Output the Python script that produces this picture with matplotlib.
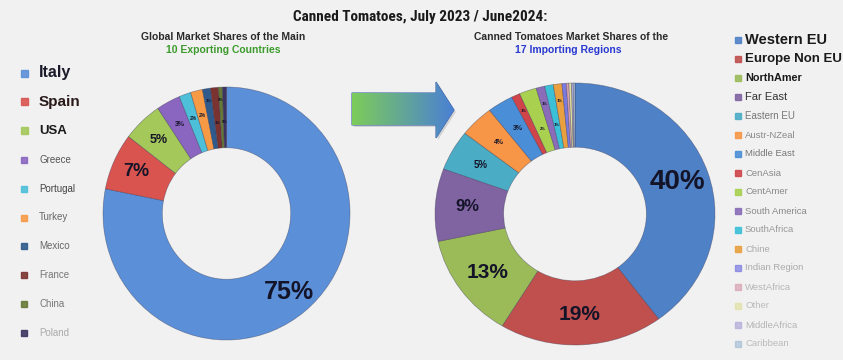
import numpy as np
import matplotlib
matplotlib.use("Agg")
import matplotlib.pyplot as plt
from matplotlib import font_manager
from matplotlib.patches import Polygon, Rectangle

# data
exporters = ["Italy", "Spain", "USA", "Greece", "Portugal", "Turkey",
             "Mexico", "France", "China", "Poland"]
export_share = [75, 7, 5, 3, 1.5, 1.5, 1, 1, 0.5, 0.5]

importers = ["Western EU", "Europe Non EU", "NorthAmer", "Far East", "Eastern EU",
             "Austr-NZeal", "Middle East", "CenAsia", "CentAmer", "South America",
             "SouthAfrica", "Chine", "Indian Region", "WestAfrica", "Other",
             "MiddleAfrica", "Caribbean"]
import_share = [40, 19, 13, 9, 5, 4, 3, 1, 2, 1, 1, 1, 0.5, 0.3, 0.3, 0.2, 0.2]

title = "Canned Tomatoes, July 2023 / June2024:"
sub_left = ["Global Market Shares of the Main", "10 Exporting Countries"]
sub_right = ["Canned Tomatoes Market Shares of the", "17 Importing Regions"]

# colours / styles
exp_colors = ["#5b8fd8", "#d9534f", "#a4c85a", "#8a66c0", "#4dbfd9", "#f79a46",
              "#2f5a8c", "#7a3330", "#667a35", "#3d3560"]
imp_colors = ["#4f81c7", "#c0504d", "#9bbb59", "#8064a2", "#4bacc6", "#f79646",
              "#4a8ed8", "#d0454a", "#a9d04f", "#8a6cb8", "#3cc0d8", "#e8a040",
              "#7a7ae0", "#d8a0b0", "#e0e0a0", "#b0a8d8", "#a8c0d8"]
exp_lbl_size = [18, 13, 9, 5, 3.5, 3.5, 3, 3, 3, 3]
imp_lbl_size = [20, 15, 15, 12, 7, 5, 5, 3, 3, 3, 3, 3, 0, 0, 0, 0, 0]


def pick(names, default="DejaVu Sans"):
    for n in names:
        try:
            font_manager.findfont(n, fallback_to_default=False)
            return n
        except Exception:
            pass
    return default


narrow = pick(["Liberation Sans Narrow", "Roboto Condensed", "DejaVu Sans"])
arial = pick(["Liberation Sans", "Arial", "DejaVu Sans"])
plt.rcParams["font.family"] = arial

W, H = 843, 360
fig = plt.figure(figsize=(W / 100, H / 100), dpi=100, facecolor="#f1f1f1")

# overlay in pixel coordinates
bg = fig.add_axes([0, 0, 1, 1])
bg.set_xlim(0, W)
bg.set_ylim(H, 0)
bg.axis("off")


def px_axes(left, top, w, h):
    return fig.add_axes([left / W, 1 - (top + h) / H, w / W, h / H])


def donut(ax, vals, cols, sizes, ring, rlab):
    wedges, _ = ax.pie(vals, colors=cols, startangle=90, counterclock=False,
                       wedgeprops=dict(width=ring, edgecolor=(0.2, 0.2, 0.3, 0.45),
                                       linewidth=0.5))
    k = 0
    for w, v, s in zip(wedges, vals, sizes):
        if s <= 0:
            continue
        r = rlab
        if s <= 3:
            # stagger the tiny labels so they do not sit on each other
            r = rlab + (0.1 if k % 2 == 0 else -0.08)
            k += 1
        ang = np.deg2rad((w.theta1 + w.theta2) / 2)
        ax.text(r * np.cos(ang), r * np.sin(ang), f"{v:.0f}%",
                ha="center", va="center", fontsize=s, fontweight="bold",
                color="#141428")
    ax.set_aspect("auto")
    ax.set_xlim(-1, 1)
    ax.set_ylim(-1, 1)
    ax.axis("off")


ax1 = px_axes(103, 87, 247, 253)
donut(ax1, export_share, exp_colors, exp_lbl_size, 0.48, 0.8)
ax2 = px_axes(435, 83, 280, 262)
donut(ax2, import_share, imp_colors, imp_lbl_size, 0.49, 0.77)

# titles
bg.text(420, 17, title, ha="center", va="center", fontsize=11, fontweight="bold",
        family=narrow, color="#1a1a1a")
bg.text(223, 37, sub_left[0], ha="center", va="center", fontsize=7.5,
        fontweight="bold", color="#2a2a2a")
bg.text(223, 50, sub_left[1], ha="center", va="center", fontsize=7.5,
        fontweight="bold", color="#3c9a2c")
bg.text(571, 37, sub_right[0], ha="center", va="center", fontsize=7.5,
        fontweight="bold", color="#2a2a2a")
bg.text(568, 50, sub_right[1], ha="center", va="center", fontsize=7.5,
        fontweight="bold", color="#2838d0")

# left legend
left_font = [11.5, 11, 9.5, 7, 7, 7, 7, 7, 7, 7]
left_tc = ["#1a1a2a", "#2a1a1a", "#1a1a1a", "#555555", "#444444", "#666666",
           "#666666", "#777777", "#777777", "#aaaaaa"]
for i, name in enumerate(exporters):
    y = 73 + i * 28.9
    bold = i < 3
    s = 7 if bold else 6
    bg.add_patch(Rectangle((21, y - s / 2), s, s, color=exp_colors[i], alpha=0.9))
    bg.text(39, y, name, ha="left", va="center",
            fontsize=left_font[i], fontweight="bold" if bold else "normal",
            color=left_tc[i])

# right legend
right_font = [10.5, 9.5, 7.8, 8, 7, 6.8, 6.8, 6.8, 6.8, 6.8, 6.8, 6.8, 6.8,
              6.8, 6.8, 6.8, 6.8]
right_tc = ["#1a1a1a", "#1a1a1a", "#1a1a1a", "#333333", "#777777", "#888888",
            "#777777", "#888888", "#888888", "#888888", "#999999", "#aaaaaa",
            "#aaaaaa", "#b5b5b5", "#bbbbbb", "#b5b5b5", "#bbbbbb"]
for i, name in enumerate(importers):
    y = 40 + i * 19
    bold = i < 3
    bg.add_patch(Rectangle((735, y - 3), 6, 6, color=imp_colors[i],
                           alpha=0.9 if i < 12 else 0.7))
    bg.text(745, y, name, ha="left", va="center", fontsize=right_font[i],
            fontweight="bold" if bold else "normal", color=right_tc[i])

# gradient arrow
arrow_pts = [(352, 93), (436, 93), (436, 82), (454, 110), (436, 138),
             (436, 125), (352, 125)]
shadow = Polygon([(x + 2, y + 2) for x, y in arrow_pts], closed=True,
                 facecolor=(0, 0, 0, 0.12), edgecolor="none")
bg.add_patch(shadow)
arrow = Polygon(arrow_pts, closed=True, facecolor="none",
                edgecolor="#3a62a8", linewidth=0.8)
bg.add_patch(arrow)
g1 = np.array(matplotlib.colors.to_rgb("#7ccc5a"))
g2 = np.array(matplotlib.colors.to_rgb("#4a80d4"))
t = np.linspace(0, 1, 200)[None, :, None]
grad = g1 * (1 - t) + g2 * t
grad = np.repeat(grad, 2, axis=0)
im = bg.imshow(grad, extent=(352, 454, 138, 82), aspect="auto", zorder=1)
im.set_clip_path(arrow)
bg.set_xlim(0, W)
bg.set_ylim(H, 0)

fig.savefig("out.png", dpi=100, facecolor=fig.get_facecolor())
